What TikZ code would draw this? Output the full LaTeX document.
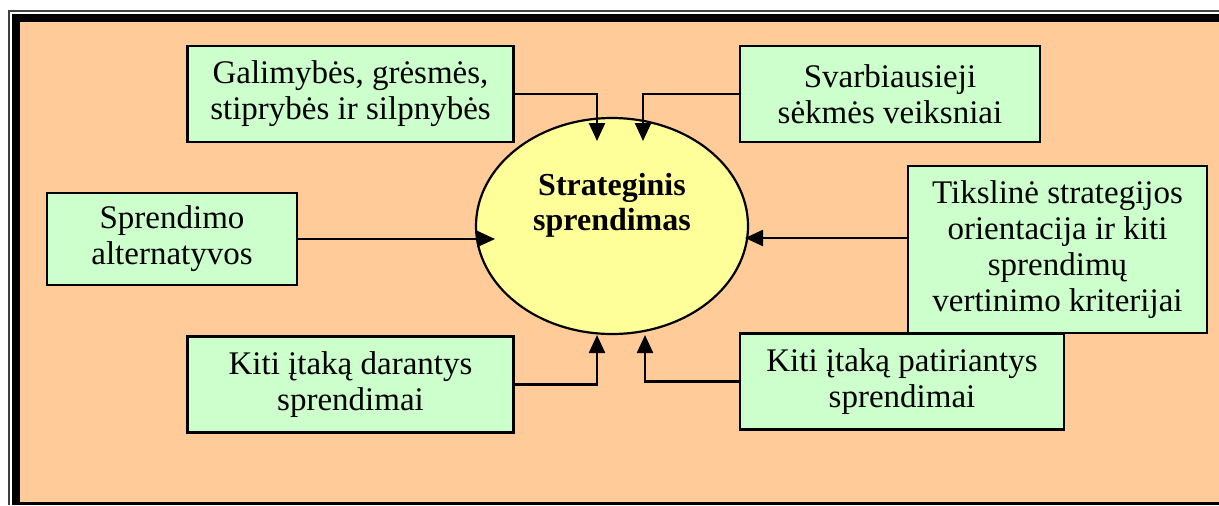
\documentclass[tikz,border=0pt]{standalone}
\usepackage{fontspec}
\setmainfont{Liberation Serif}
\usetikzlibrary{positioning,arrows.meta,shapes.geometric}
\definecolor{bgorange}{HTML}{FFCC99}
\definecolor{boxgreen}{HTML}{CCFFCC}
\definecolor{ellyellow}{HTML}{FFFF99}
\tikzset{
  line/.style={-{Triangle[length=9pt,width=8pt]}, line width=1.2pt},
  box/.style={draw, line width=1.3pt, fill=boxgreen, align=center, inner sep=2pt,
    font=\fontsize{16.5}{18}\selectfont},
  widebox/.style={box, minimum width=163pt, minimum height=48pt},
  midbox/.style={box, minimum width=150pt, minimum height=48pt},
  smallbox/.style={box, minimum width=125pt, minimum height=46pt},
  tallbox/.style={box, minimum width=149.5pt, minimum height=83.5pt},
  goal/.style={ellipse, draw, line width=1.1pt, fill=ellyellow, align=center,
    minimum width=136pt, minimum height=108pt, font=\fontsize{16}{17.5}\selectfont\bfseries}
}
\begin{document}
\begin{tikzpicture}[x=0.5pt, y=-0.5pt, node distance=96pt]
  \useasboundingbox (0,0) rectangle (1219,505);
  \fill[white] (0,0) rectangle (1219,505);
  \draw[black!75, line width=1pt] (8.5,505) |- (1219,10.5);
  \fill[black] (12,14) rectangle (1219,505);
  \fill[bgorange] (20,22) rectangle (1219,502);

  \node[goal] (goal) at (612,226) {Strateginis\\sprendimas\\[7pt]\mbox{}};
  \node[widebox] (chances) at (350.5,94) {Galimybės, grėsmės,\\stiprybės ir silpnybės};
  \node[midbox] (factors) at (890,94) {Svarbiausieji\\sėkmės veiksniai};
  \node[smallbox] (alts) at (172,239) {Sprendimo\\alternatyvos};
  \node[tallbox] (criteria) at (1057.5,249.5) {Tikslinė strategijos\\orientacija ir kiti\\sprendimų\\vertinimo kriterijai};
  \node[widebox, below=of chances] (doing) {Kiti įtaką darantys\\sprendimai};
  \node[box, minimum width=162pt, minimum height=48pt] (taking) at (902,381.5) {Kiti įtaką patiriantys\\sprendimai};

  \coordinate (inTL) at (597,141);
  \coordinate (inTR) at (643,141);
  \coordinate (inL) at (495,239);
  \coordinate (inR) at (745,238);
  \coordinate (inBL) at (597,335);
  \coordinate (inBR) at (645,335);

  \draw[line] (chances.east) -| (inTL);
  \draw[line] (factors.west) -| (inTR);
  \draw[line] (alts.east) -- (inL);
  \draw[line] (criteria.west |- inR) -- (inR);
  \draw[line] (doing.east) -| (inBL);
  \draw[line] (taking.west) -| (inBR);
\end{tikzpicture}
\end{document}
